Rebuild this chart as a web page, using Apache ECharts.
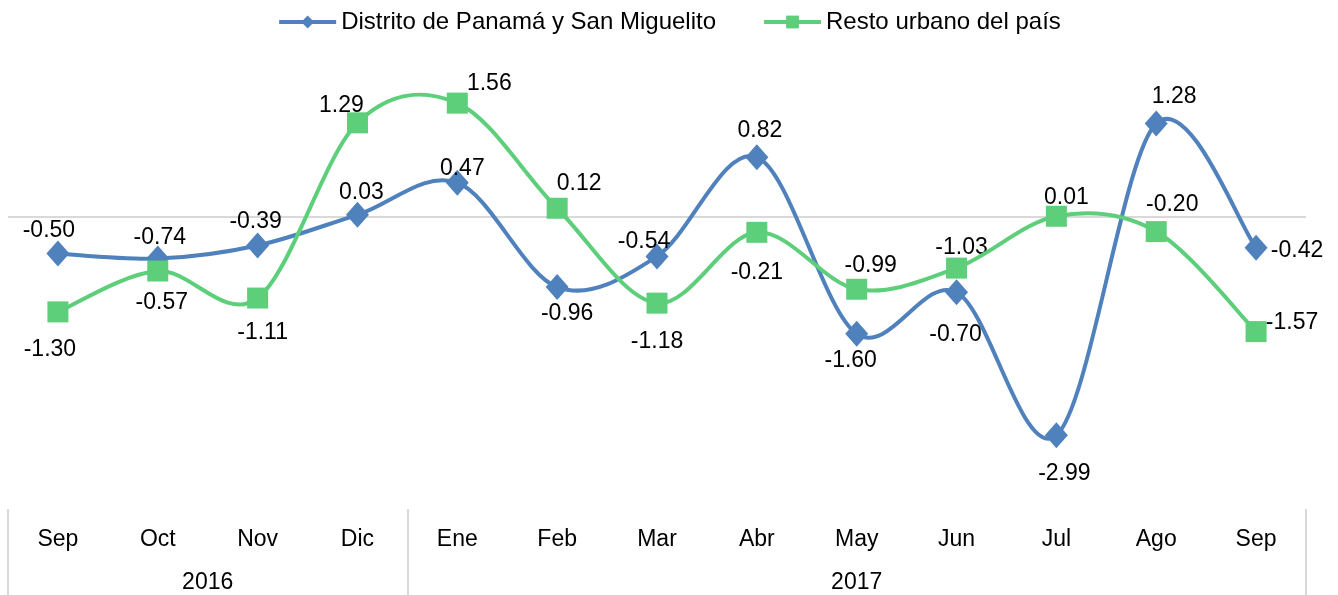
<!DOCTYPE html>
<html>
<head>
<meta charset="utf-8">
<script src="https://cdn.jsdelivr.net/npm/echarts@6/dist/echarts.min.js"></script>
<style>
html,body{margin:0;padding:0;background:#fff;}
#chart{width:1338px;height:595px;}
</style>
</head>
<body>
<div id="chart"></div>
<script>
// ---- data ----
var months = ['Sep','Oct','Nov','Dic','Ene','Feb','Mar','Abr','May','Jun','Jul','Ago','Sep'];
var years = ['2016','2017'];
var yearStart = [0, 4];      // first month index of each year group
var yearEnd = [4, 13];       // index after last month of each year group
var seriesNames = ['Distrito de Panamá y San Miguelito','Resto urbano del país'];
var panama = [-0.50,-0.57,-0.39,0.03,0.47,-0.96,-0.54,0.82,-1.60,-1.03,-2.99,1.28,-0.42];
var resto  = [-1.30,-0.74,-1.11,1.29,1.56,0.12,-1.18,-0.21,-0.99,-0.70,0.01,-0.20,-1.57];

// ---- label placement (style only: pixel offsets from the marker) ----
var blueOff = [[-9,-23],[4,44],[-2,-24],[4,-22],[5,-14],[10,27],[-13,-15],[3,-26],[-6,27],[5,-45],[8,38],[18,-27],[41,3]];
var greenOff = [[-8,38],[2,-33],[5,35],[-16,-17],[32,-19],[22,-25],[0,39],[0,40],[14,-24],[-1,67],[10,-19],[16,-27],[36,-9]];

var FONT = 'Liberation Sans, Arial, sans-serif';
var FS = 23;
var BLUE = '#4F81BD', GREEN = '#5DCE79';

function buildData(vals, off){
  return vals.map(function(v,i){
    return {value:v, label:{position:'inside', offset:off[i]}};
  });
}

// Catmull-Rom style smoothed segment drawn through the chart's own coordinate system
function curveSeries(vals, color, z){
  return {
    type:'custom',
    z:z,
    silent:true,
    clip:false,
    data:vals.map(function(v,i){ return [i, v]; }),
    encode:{x:0, y:1},
    renderItem:function(params, api){
      var i = params.dataIndex, n = vals.length;
      if (i >= n-1) return null;
      var p0 = api.coord([Math.max(i-1,0), vals[Math.max(i-1,0)]]);
      var p1 = api.coord([i, vals[i]]);
      var p2 = api.coord([i+1, vals[i+1]]);
      var p3 = api.coord([Math.min(i+2,n-1), vals[Math.min(i+2,n-1)]]);
      var k = 1/6;
      return {
        type:'bezierCurve',
        shape:{
          x1:p1[0], y1:p1[1], x2:p2[0], y2:p2[1],
          cpx1:p1[0]+(p2[0]-p0[0])*k, cpy1:p1[1]+(p2[1]-p0[1])*k,
          cpx2:p2[0]-(p3[0]-p1[0])*k, cpy2:p2[1]-(p3[1]-p1[1])*k
        },
        style:{stroke:color, lineWidth:4, fill:null, lineCap:'round'}
      };
    }
  };
}

var tickVals = yearStart.slice();
tickVals.push(yearEnd[yearEnd.length-1]);
var yearCenters = years.map(function(y,i){ return (yearStart[i]+yearEnd[i])/2; });

var labelCommon = {show:true, fontFamily:FONT, fontSize:FS, color:'#000',
  formatter:function(p){ return p.value.toFixed(2); }};

var chart = echarts.init(document.getElementById('chart'), null, {renderer:'canvas'});
chart.setOption({
  animation:false,
  textStyle:{fontFamily:FONT},
  legend:{
    top:5, left:'center',
    itemWidth:57, itemHeight:16, itemGap:46,
    textStyle:{fontFamily:FONT, fontSize:24, color:'#000'},
    data:[
      {name:seriesNames[0], lineStyle:{color:BLUE, width:4, opacity:1}},
      {name:seriesNames[1], lineStyle:{color:GREEN, width:4, opacity:1}}
    ]
  },
  grid:{left:8, right:32, top:71, bottom:86},
  xAxis:[{
    type:'category',
    data:months,
    position:'bottom',
    axisLine:{show:false},
    axisTick:{show:false},
    axisLabel:{margin:19, fontFamily:FONT, fontSize:FS, color:'#000', interval:0},
    splitLine:{show:false}
  },{
    type:'value',
    min:0, max:months.length,
    position:'bottom',
    axisLine:{show:false},
    splitLine:{show:false},
    axisTick:{show:true, customValues:tickVals, length:86, inside:false,
      lineStyle:{color:'#d9d9d9', width:2}},
    axisLabel:{show:true, customValues:yearCenters, margin:62,
      fontFamily:FONT, fontSize:FS, color:'#000',
      formatter:function(v){ var i = yearCenters.indexOf(v); return i>=0 ? years[i] : ''; }}
  }],
  yAxis:{
    type:'value', min:-4, max:2, interval:2,
    show:false,
    splitLine:{show:false}
  },
  series:[
    curveSeries(panama, BLUE, 2),
    {
      name:seriesNames[0],
      type:'line',
      data:buildData(panama, blueOff),
      symbol:'diamond',
      symbolSize:[23,26],
      z:3,
      itemStyle:{color:BLUE},
      lineStyle:{color:BLUE, width:0, opacity:0},
      label:labelCommon,
      markLine:{
        silent:true, symbol:'none', label:{show:false},
        lineStyle:{color:'#d9d9d9', width:2, type:'solid'},
        z:1,
        data:[{yAxis:0}]
      }
    },
    curveSeries(resto, GREEN, 4),
    {
      name:seriesNames[1],
      type:'line',
      data:buildData(resto, greenOff),
      symbol:'rect',
      symbolSize:21,
      z:5,
      itemStyle:{color:GREEN},
      lineStyle:{color:GREEN, width:0, opacity:0},
      label:labelCommon
    }
  ]
});
</script>
</body>
</html>
